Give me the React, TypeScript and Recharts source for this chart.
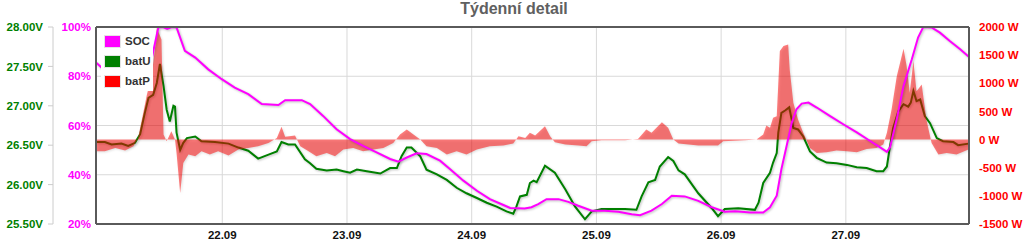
import React from 'react';
import { ComposedChart, Line, Area, XAxis, YAxis, CartesianGrid, ReferenceLine, Legend } from 'recharts';

// Time axis: hours since first sample
const dayTicks = [24.3, 48.3, 72.3, 96.3, 120.3, 144.3];
const dayLabels = ['22.09', '23.09', '24.09', '25.09', '26.09', '27.09'];

const pctTicks = [20, 40, 60, 80, 100];
const voltTicks = [25.5, 26, 26.5, 27, 27.5, 28];
const wattTicks = [-1500, -1000, -500, 0, 500, 1000, 1500, 2000];

const socHours = [0, 1.1, 9.8, 10.7, 12.0, 12.9, 13.7, 14.6, 15.5, 17.1, 19.1, 21.6, 24.2, 26.7, 29.3, 31.9, 35.1, 36.4, 39.6, 41.2, 43.7, 46.3, 48.9, 51.4, 54.0, 56.6, 58.2, 59.8, 61.7, 63.6, 66.2, 68.1, 70.7, 73.3, 75.8, 78.4, 79.7, 82.5, 83.8, 85.1, 86.7, 89.0, 90.9, 92.8, 95.4, 97.9, 100.5, 103.1, 104.7, 106.9, 108.9, 110.8, 113.3, 115.9, 118.5, 121.0, 123.0, 125.9, 128.4, 129.7, 131.0, 131.9, 132.9, 133.9, 134.8, 135.8, 137.1, 138.7, 141.2, 143.8, 146.4, 148.9, 150.9, 152.2, 152.8, 154.1, 155.4, 157.0, 158.2, 159.2, 160.8, 162.4, 164.3, 166.3, 167.9];
const socValues = [85.6, 83.5, 76.0, 86.9, 99.8, 100, 99.2, 100, 99.8, 90.3, 87.6, 82.8, 78.8, 75.4, 72.7, 68.7, 68.3, 70.3, 70.3, 68.7, 63.9, 58.5, 54.5, 51.7, 49.1, 46.4, 45.3, 47.0, 48.7, 48.4, 45.7, 42.3, 37.6, 33.5, 30.1, 27.7, 26.5, 26.3, 26.8, 28.1, 30.1, 30.1, 29.0, 27.4, 25.4, 25.4, 25.0, 24.0, 23.6, 25.4, 28.1, 31.5, 31.2, 29.4, 26.8, 25.0, 25.2, 24.7, 24.7, 26.8, 31.5, 42.3, 51.7, 61.2, 66.6, 68.9, 69.3, 67.3, 63.9, 60.5, 57.2, 53.8, 51.1, 49.3, 51.1, 62.6, 76.1, 86.9, 95.7, 100, 99.8, 97.7, 94.3, 91.0, 88.0];

const batUHours = [0, 1.7, 3.0, 4.9, 6.2, 7.5, 8.5, 9.4, 10.1, 11.0, 11.7, 12.3, 13.0, 13.6, 14.2, 14.9, 15.2, 15.5, 16.2, 16.8, 17.5, 19.1, 20.3, 22.9, 25.5, 27.4, 29.3, 31.2, 33.2, 34.8, 35.7, 37.0, 38.3, 40.2, 41.2, 42.4, 44.4, 46.3, 47.6, 48.9, 50.2, 52.1, 54.7, 56.6, 57.9, 58.8, 59.8, 60.7, 62.4, 63.6, 65.6, 67.5, 69.4, 71.3, 73.3, 75.2, 77.1, 79.0, 80.3, 80.9, 81.6, 82.9, 83.5, 84.2, 84.8, 86.4, 88.3, 90.3, 92.2, 94.1, 95.4, 97.3, 101.8, 104.0, 105.0, 106.3, 107.6, 108.5, 110.1, 111.1, 112.1, 113.3, 115.9, 118.5, 119.7, 121.0, 123.6, 126.8, 127.5, 128.4, 129.7, 130.3, 131.0, 131.3, 131.9, 132.6, 133.4, 134.2, 135.1, 136.1, 137.4, 138.7, 140.6, 142.5, 144.5, 146.4, 148.3, 150.2, 151.5, 152.2, 152.8, 153.4, 154.4, 155.4, 156.3, 156.8, 157.3, 157.9, 158.6, 159.5, 160.5, 161.8, 163.0, 165.0, 165.9, 167.9];
const batUValues = [26.54, 26.54, 26.51, 26.52, 26.49, 26.53, 26.64, 26.91, 27.10, 27.14, 27.29, 27.53, 27.25, 26.95, 26.80, 27.00, 26.99, 26.66, 26.44, 26.53, 26.59, 26.61, 26.55, 26.54, 26.52, 26.47, 26.43, 26.33, 26.38, 26.42, 26.54, 26.51, 26.51, 26.32, 26.27, 26.20, 26.18, 26.19, 26.17, 26.15, 26.19, 26.17, 26.14, 26.21, 26.21, 26.36, 26.47, 26.47, 26.36, 26.19, 26.13, 26.06, 25.96, 25.89, 25.83, 25.77, 25.72, 25.66, 25.63, 25.72, 25.85, 25.87, 26.02, 26.05, 26.03, 26.24, 26.15, 25.94, 25.72, 25.56, 25.66, 25.69, 25.69, 25.68, 25.85, 26.03, 26.06, 26.23, 26.35, 26.30, 26.18, 26.13, 25.89, 25.70, 25.60, 25.69, 25.70, 25.68, 25.77, 26.02, 26.15, 26.28, 26.40, 26.66, 26.91, 26.94, 26.98, 26.72, 26.70, 26.61, 26.42, 26.34, 26.28, 26.27, 26.25, 26.22, 26.21, 26.17, 26.17, 26.23, 26.49, 26.72, 26.93, 27.02, 26.99, 27.04, 27.19, 27.06, 27.08, 26.87, 26.78, 26.59, 26.55, 26.54, 26.50, 26.52];

const batPHours = [0, 1.7, 3.7, 5.6, 7.2, 8.1, 9.1, 9.8, 10.7, 11.4, 11.7, 12.6, 13.0, 13.6, 14.5, 15.2, 15.5, 16.2, 16.8, 17.8, 19.1, 20.3, 21.9, 23.5, 25.5, 27.4, 29.3, 31.2, 33.2, 34.8, 35.7, 36.4, 38.3, 39.3, 40.9, 42.4, 44.4, 46.0, 47.6, 49.5, 51.4, 53.4, 55.3, 57.2, 58.5, 59.8, 61.1, 62.4, 63.6, 65.6, 67.5, 69.4, 71.3, 73.3, 75.8, 78.4, 80.3, 81.3, 82.6, 83.5, 84.5, 86.4, 87.4, 88.3, 90.3, 92.8, 94.4, 95.4, 97.3, 101.8, 104.3, 105.9, 106.9, 108.9, 110.1, 111.1, 112.1, 114.0, 115.9, 119.7, 120.7, 124.9, 127.1, 128.4, 129.0, 129.7, 130.3, 131.0, 131.6, 132.3, 133.2, 133.5, 134.2, 135.1, 136.1, 137.4, 138.7, 140.6, 142.5, 144.5, 146.4, 148.3, 150.2, 151.5, 152.2, 153.1, 154.1, 155.4, 156.0, 156.6, 157.3, 157.9, 158.9, 159.8, 160.8, 162.1, 163.7, 165.6, 167.9];
const batPValues = [-208, -208, -148, -196, -119, 30, 475, 800, 1127, 1661, 1988, 1780, 89, -30, 148, 0, -237, -949, -415, -267, -297, -208, -267, -208, -285, -178, -148, -119, -59, 30, 226, 48, 71, -119, -208, -297, -237, -297, -178, -148, -208, -178, -148, -59, 89, 178, 89, 0, -119, -148, -267, -208, -267, -178, -119, -107, -71, 59, 30, 119, 71, 237, 59, -48, -89, -107, -119, -30, -12, -12, 12, 178, 119, 308, 208, 0, -71, -89, -107, -107, -30, -12, 0, 89, 249, 208, 386, 415, 1572, 1661, 1691, 1246, 653, 356, 119, -148, -237, -226, -196, -208, -226, -166, -148, -89, 119, 534, 1127, 1614, 1305, 831, 1394, 860, 979, 356, -59, -267, -237, -267, -178];

const socData = socHours.map((t, i) => ({ t, v: socValues[i] }));
const batUData = batUHours.map((t, i) => ({ t, v: batUValues[i] }));
const batPData = batPHours.map((t, i) => ({ t, v: batPValues[i] }));

const legendItems = [
  { name: 'SOC', color: '#ff00ff' },
  { name: 'batU', color: '#008000' },
  { name: 'batP', color: '#ff0000' },
];

const FONT = '"Liberation Sans", Arial, sans-serif';
const FRAME = '#5a5a5a';
const SHADOW = { filter: 'drop-shadow(1px 1px 1px rgba(0,0,0,0.25))' };

const makeTick = (fill: string, anchor: 'start' | 'end' | 'middle', dy: string, fmt: (v: number) => string) =>
  (props: any) => (
    <text
      x={props.x}
      y={props.y}
      dy={dy}
      textAnchor={anchor}
      fill={fill}
      fontSize={11.5}
      fontWeight="bold"
      fontFamily={FONT}
    >
      {fmt(props.payload.value)}
    </text>
  );

const xTick = makeTick('#111', 'middle', '0.71em', (v) => dayLabels[dayTicks.indexOf(v)] ?? '');
const pctTick = makeTick('#ff00ff', 'end', '0.36em', (v) => `${v}%`);
const voltTick = makeTick('#008000', 'end', '0.36em', (v) => `${v.toFixed(2)}V`);
const wattTick = makeTick('#ff0000', 'start', '0.36em', (v) => `${v} W`);

const renderLegend = () => (
  <div style={{ background: '#fff', padding: '0 2px 0 4px', fontFamily: FONT }}>
    {legendItems.map((it) => (
      <div key={it.name} style={{ display: 'flex', alignItems: 'center', height: 20 }}>
        <span style={{ display: 'inline-block', width: 15, height: 11, background: it.color, boxShadow: '0 0 0 1px #e4e4e4' }} />
        <span style={{ marginLeft: 5, fontSize: 11.5, fontWeight: 'bold', color: '#333' }}>{it.name}</span>
      </div>
    ))}
  </div>
);

export default function App() {
  return (
    <div style={{ position: 'relative', width: 1024, height: 244, fontFamily: FONT }}>
      <style>{'body{margin:0}'}</style>
      <div style={{ position: 'absolute', top: 1, left: 0, width: 1028, textAlign: 'center', fontSize: 16, lineHeight: '16px', fontWeight: 'bold', color: '#606060', fontFamily: FONT }}>
        Týdenní detail
      </div>
      <ComposedChart width={1024} height={244} margin={{ top: 27, right: 0, bottom: 0, left: 0 }}>
        <CartesianGrid yAxisId="pct" stroke="#d9d9d9" strokeWidth={1} />
        <XAxis
          type="number"
          dataKey="t"
          domain={[0, 168]}
          ticks={dayTicks}
          interval={0}
          allowDataOverflow
          axisLine={false}
          tickLine={false}
          tickSize={0}
          tickMargin={7}
          height={20}
          tick={xTick}
        />
        <YAxis
          yAxisId="pct"
          orientation="left"
          width={43}
          type="number"
          domain={[20, 100]}
          ticks={pctTicks}
          interval={0}
          allowDataOverflow
          axisLine={false}
          tickLine={false}
          tickSize={0}
          tickMargin={5}
          tick={pctTick}
        />
        <YAxis
          yAxisId="volt"
          orientation="left"
          width={53}
          type="number"
          domain={[25.5, 28]}
          ticks={voltTicks}
          interval={0}
          allowDataOverflow
          axisLine={{ stroke: '#cccccc' }}
          tickLine={{ stroke: '#cccccc' }}
          tickSize={5}
          tickMargin={5}
          tick={voltTick}
        />
        <YAxis
          yAxisId="watt"
          orientation="right"
          width={55}
          type="number"
          domain={[-1500, 2000]}
          ticks={wattTicks}
          interval={0}
          allowDataOverflow
          axisLine={false}
          tickLine={false}
          tickSize={0}
          tickMargin={10}
          tick={wattTick}
        />
        <Area
          yAxisId="volt"
          data={batUData}
          dataKey="v"
          name="batU"
          type="linear"
          stroke="#008000"
          strokeWidth={2}
          fill="none"
          dot={false}
          activeDot={false}
          isAnimationActive={false}
          style={SHADOW}
        />
        <Area
          yAxisId="watt"
          data={batPData}
          dataKey="v"
          name="batP"
          type="linear"
          stroke="none"
          fill="#ff0000"
          fillOpacity={0.5}
          baseValue={0}
          dot={false}
          activeDot={false}
          isAnimationActive={false}
          style={SHADOW}
        />
        <Line
          yAxisId="pct"
          data={socData}
          dataKey="v"
          name="SOC"
          type="linear"
          stroke="#ff00ff"
          strokeWidth={2}
          dot={false}
          activeDot={false}
          isAnimationActive={false}
          style={SHADOW}
        />
        <ReferenceLine yAxisId="pct" y={100} stroke={FRAME} strokeWidth={2} ifOverflow="visible" />
        <ReferenceLine yAxisId="pct" y={20} stroke={FRAME} strokeWidth={2} ifOverflow="visible" />
        <ReferenceLine yAxisId="pct" x={0} stroke={FRAME} strokeWidth={2} ifOverflow="visible" />
        <ReferenceLine yAxisId="pct" x={168} stroke={FRAME} strokeWidth={2} ifOverflow="visible" />
        <Legend
          layout="horizontal"
          verticalAlign="middle"
          align="center"
          content={renderLegend}
          wrapperStyle={{ position: 'absolute', left: 101, top: 31, width: 'auto', height: 'auto' }}
        />
      </ComposedChart>
    </div>
  );
}
